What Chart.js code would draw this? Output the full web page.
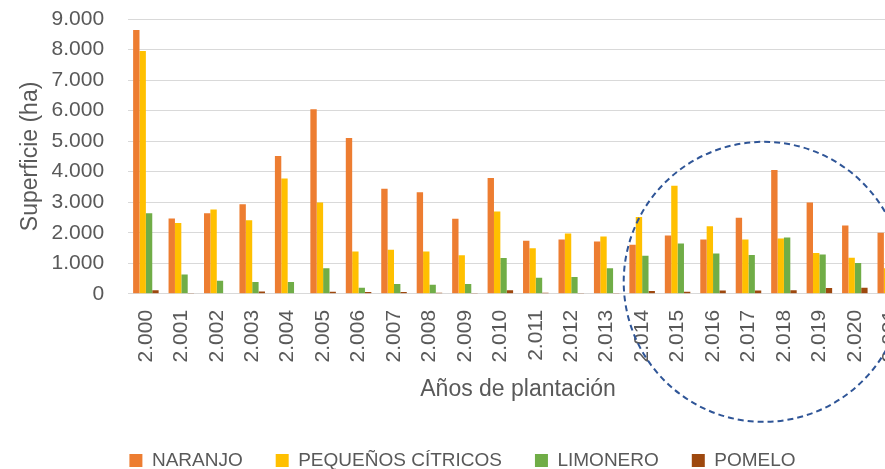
<!DOCTYPE html>
<html>
<head>
<meta charset="utf-8">
<script src="https://cdn.jsdelivr.net/npm/chart.js@4"></script>
<style>
  html, body { margin: 0; padding: 0; background: #fff; overflow: hidden; width: 885px; height: 469px; }
  #wrap { position: relative; width: 922px; height: 469px; }
</style>
</head>
<body>
<div id="wrap"><canvas id="c" width="922" height="469"></canvas></div>
<script>
const categories = ['2.000','2.001','2.002','2.003','2.004','2.005','2.006','2.007','2.008','2.009','2.010','2.011','2.012','2.013','2.014','2.015','2.016','2.017','2.018','2.019','2.020','2.021'];
const naranjo   = [8640,2470,2640,2930,4510,6045,5100,3440,3330,2460,3790,1735,1780,1715,1605,1910,1780,2495,4055,2990,2240,2000];
const pequenos  = [7950,2320,2760,2410,3780,2990,1385,1440,1385,1265,2700,1495,1980,1880,2515,3540,2210,1780,1815,1340,1185,835];
const limonero  = [2640,630,430,385,385,835,200,320,300,320,1175,530,550,835,1250,1650,1320,1275,1845,1285,1010,700];
const pomelo    = [120,30,20,75,20,65,60,60,40,10,120,40,30,10,90,65,110,110,120,190,200,100];
const yTicks = [0,1000,2000,3000,4000,5000,6000,7000,8000,9000];

const FONT = "'Liberation Sans', Arial, sans-serif";
const TXT = '#595959';

function fmt(v) { return String(v).replace(/\B(?=(\d{3})+(?!\d))/g, '.'); }

const circlePlugin = {
  id: 'circle',
  afterDraw(chart) {
    const { ctx, scales, chartArea } = chart;
    const cx = scales.x.getPixelForValue(17.43);
    const cy = chartArea.bottom - 12;
    const r = (scales.x.getPixelForValue(1) - scales.x.getPixelForValue(0)) * 3.95;
    ctx.save();
    ctx.strokeStyle = '#2F5597';
    ctx.lineWidth = 2;
    ctx.setLineDash([6, 4]);
    ctx.beginPath();
    ctx.arc(cx, cy, r, 0, Math.PI * 2);
    ctx.stroke();
    ctx.restore();
  }
};

new Chart(document.getElementById('c'), {
  type: 'bar',
  data: {
    labels: categories,
    datasets: [
      { label: 'NARANJO', data: naranjo, backgroundColor: '#ED7D31' },
      { label: 'PEQUEÑOS CÍTRICOS', data: pequenos, backgroundColor: '#FFC000' },
      { label: 'LIMONERO', data: limonero, backgroundColor: '#70AD47' },
      { label: 'POMELO', data: pomelo, backgroundColor: '#9E480E' }
    ]
  },
  options: {
    responsive: false,
    animation: false,
    layout: { padding: { left: 17, right: 14, top: 19, bottom: -11 } },
    datasets: { bar: { categoryPercentage: 0.72, barPercentage: 1.0 } },
    plugins: {
      legend: {
        position: 'bottom',
        labels: {
          boxWidth: 13, boxHeight: 13, padding: 33,
          color: TXT, font: { family: FONT, size: 19 }
        }
      },
      tooltip: { enabled: false }
    },
    scales: {
      x: {
        afterFit(s) { s.paddingLeft = 0; s.paddingRight = 0; },
        grid: { display: false, drawTicks: false },
        border: { display: true, color: '#D9D9D9', width: 1 },
        ticks: { color: TXT, font: { family: FONT, size: 21 }, maxRotation: 90, minRotation: 90, padding: 16, autoSkip: false },
        title: { display: true, text: 'Años de plantación', color: TXT, font: { family: FONT, size: 23 }, padding: { top: -3, bottom: 15 } }
      },
      y: {
        min: 0, max: 9000,
        afterBuildTicks(axis) { axis.ticks = yTicks.map(v => ({ value: v })); },
        afterFit(s) { s.paddingTop = 0; s.paddingBottom = 0; },
        grid: { color: '#D9D9D9', lineWidth: 1, drawTicks: false },
        border: { display: false },
        ticks: { color: TXT, font: { family: FONT, size: 21 }, padding: 24, autoSkip: false, callback: v => fmt(v) },
        title: { display: true, text: 'Superficie (ha)', color: TXT, font: { family: FONT, size: 23 }, padding: { top: 0, bottom: -17 } }
      }
    }
  },
  plugins: [circlePlugin]
});
</script>
</body>
</html>
